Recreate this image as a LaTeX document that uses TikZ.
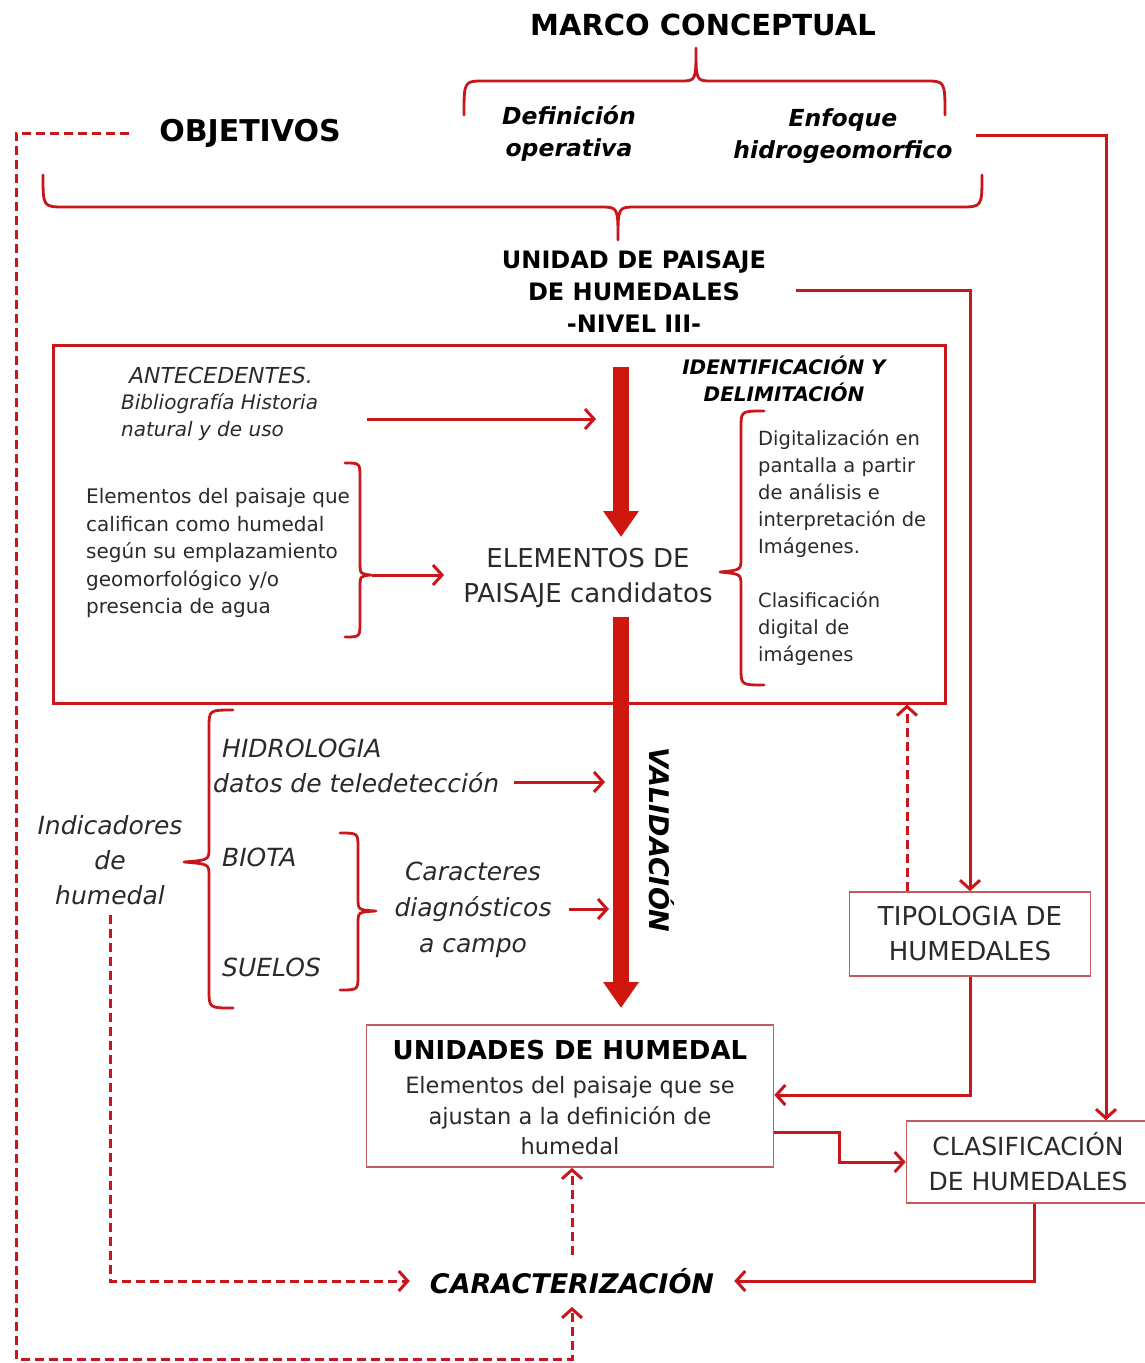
\documentclass[tikz,border=0pt]{standalone}
\usepackage{fontspec}
\setmainfont{DejaVu Sans}
\usetikzlibrary{arrows.meta}
\definecolor{rd}{HTML}{C8161B}
\definecolor{rdb}{HTML}{D0170F}
\definecolor{bxc}{HTML}{C45A5A}
\definecolor{tx}{HTML}{2A2A2A}
\newcommand{\fs}[2]{\fontsize{#1}{#2}\selectfont}
\begin{document}
\begin{tikzpicture}[x=1pt,y=-1pt,
 txt/.style={text=tx, inner sep=0pt, align=center},
 btxt/.style={text=black, inner sep=0pt, align=center},
 ln/.style={draw=rd, line width=3pt},
 arr/.style={ln, -{Straight Barb[length=9pt,width=20pt]}},
 darr/.style={arr, dash pattern=on 9pt off 5pt},
 brc/.style={draw=rd, line width=2.8pt, line cap=round, line join=round},
 fat/.style={draw=rdb, line width=16pt, -{Triangle[length=26pt,width=34pt]}},
 box/.style={draw=bxc, line width=1.6pt, fill=white, inner sep=0pt, align=center, text=tx},
]
\useasboundingbox (0,0) rectangle (1145,1363);

% ---- top part
\node[btxt, font=\bfseries\fs{29}{32}] (title) at (703,25) {MARCO CONCEPTUAL};
\draw[brc] (464,115) .. controls (464,81) .. (484,81) -- (680,81) .. controls (696,81) .. (696,48)
           .. controls (696,81) .. (712,81) -- (925,81) .. controls (945,81) .. (945,115);
\node[btxt, font=\bfseries\itshape\fs{23.5}{32}] (def) at (569,134) {Definición\\operativa};
\node[btxt, font=\bfseries\itshape\fs{23.5}{32}] (enf) at (843,136) {Enfoque\\hidrogeomorfico};
\node[btxt, font=\bfseries\fs{30}{32}] (obj) at (250,133) {OBJETIVOS};
\draw[brc] (43,175) .. controls (43,207) .. (65,207) -- (600,207) .. controls (618,207) .. (618,240)
           .. controls (618,207) .. (636,207) -- (960,207) .. controls (982,207) .. (982,175);
\node[btxt, font=\bfseries\fs{24}{32}] (upais) at (634,292) {UNIDAD DE PAISAJE\\DE HUMEDALES\\-NIVEL III-};

% ---- big box
\node[draw=rd, line width=3pt, minimum width=892pt, minimum height=358pt, inner sep=0pt] (bigbox) at (499,524) {};
\node[txt, anchor=west, font=\itshape\fs{22}{28}] (antecT) at (129,375) {ANTECEDENTES.};
\node[txt, align=left, anchor=west, font=\itshape\fs{20}{27}] (antec) at (121,417) {Bibliografía Historia\\natural y de uso};
\coordinate (a1s) at (367,419);
\coordinate (a1e) at (596,419);
\draw[arr] (a1s) -- (a1e);
\coordinate (f1s) at (621,367);
\coordinate (f1e) at (621,537);
\draw[fat] (f1s) -- (f1e);
\node[btxt, font=\bfseries\itshape\fs{20}{27}] (ident) at (784,379) {IDENTIFICACIÓN Y\\DELIMITACIÓN};
\node[txt, font=\fs{26}{35}] (elem) at (588,578) {ELEMENTOS DE\\PAISAJE candidatos};
\node[txt, align=left, anchor=west, font=\fs{20}{27.5}] (lefttxt) at (86,553)
  {Elementos del paisaje que\\califican como humedal\\según su emplazamiento\\geomorfológico y/o\\presencia de agua};
\draw[brc] (345,463) .. controls (360,463) .. (360,478) -- (360,562) .. controls (360,574) .. (371,575)
           .. controls (360,576) .. (360,588) -- (360,622) .. controls (360,637) .. (345,637);
\coordinate (b1s) at (372,575);
\coordinate (b1e) at (444,575);
\draw[arr] (b1s) -- (b1e);
\draw[brc] (764,411) .. controls (741,411) .. (741,428) -- (741,558) .. controls (741,570) .. (720,572)
           .. controls (741,574) .. (741,586) -- (741,668) .. controls (741,685) .. (764,685);
\node[txt, align=left, anchor=west, font=\fs{19.5}{27}] (digi) at (758,548)
  {Digitalización en\\pantalla a partir\\de análisis e\\interpretación de\\Imágenes.\\[27pt]Clasificación\\digital de\\imágenes};

% ---- validation
\coordinate (f2s) at (621,617);
\coordinate (f2e) at (621,1008);
\draw[fat] (f2s) -- (f2e);
\node[btxt, rotate=-90, font=\bfseries\itshape\fs{27}{30}] (valid) at (662,840) {VALIDACIÓN};

\draw[brc] (233,710) .. controls (209,710) .. (209,728) -- (209,848) .. controls (209,860) .. (184,862)
           .. controls (209,864) .. (209,876) -- (209,990) .. controls (209,1008) .. (233,1008);
\node[txt, font=\itshape\fs{25}{35}] (indic) at (110,860) {Indicadores\\de\\humedal};
\node[txt, align=left, anchor=west, font=\itshape\fs{25}{35}] (hidro) at (213,766) {\hspace*{9pt}HIDROLOGIA\\datos de teledetección};
\coordinate (h1s) at (514,782);
\coordinate (h1e) at (605,782);
\draw[arr] (h1s) -- (h1e);
\node[txt, anchor=west, font=\itshape\fs{25}{30}] (biota) at (222,857) {BIOTA};
\node[txt, anchor=west, font=\itshape\fs{25}{30}] (suelos) at (222,967) {SUELOS};
\draw[brc] (340,833) .. controls (358,833) .. (358,848) -- (358,898) .. controls (358,910) .. (376,911)
           .. controls (358,912) .. (358,924) -- (358,975) .. controls (358,990) .. (340,990);
\node[txt, font=\itshape\fs{25}{36}] (carac) at (473,910) {Caracteres\\diagnósticos\\a campo};
\coordinate (c1s) at (569,909);
\coordinate (c1e) at (609,909);
\draw[arr] (c1s) -- (c1e);

% ---- right boxes
\node[box, minimum width=241pt, minimum height=84pt, font=\fs{26}{35}] (tipo) at (970,934) {TIPOLOGIA DE\\HUMEDALES};
\draw[darr] ([xshift=-63pt]tipo.north) -- ([xshift=-63pt]tipo.north |- bigbox.south);
\coordinate (u1) at (796,290);
\draw[arr] (u1) -| (tipo.north);

\node[box, minimum width=407pt, minimum height=142pt] (unid) at (570,1096) {};
\node[btxt, font=\bfseries\fs{26}{30}] (unidT) at (570,1050) {UNIDADES DE HUMEDAL};
\node[txt, font=\fs{22.5}{30.5}] (unidS) at (570,1116) {Elementos del paisaje que se\\ajustan a la definición de\\humedal};

\node[box, minimum width=243pt, minimum height=82pt, font=\fs{25}{35}] (clas) at (1028,1162) {CLASIFICACIÓN\\DE HUMEDALES};
\coordinate (e1) at (976,135);
\draw[arr] (e1) -| ([xshift=78pt]clas.north);
\draw[arr] (tipo.south) |- ([yshift=1pt]unid.east);
\coordinate (k1) at (839,1132);
\draw[arr] ([yshift=-36pt]unid.east) -- (k1) |- (clas.west);

\node[btxt, inner xsep=20pt, inner ysep=13pt, font=\bfseries\itshape\fs{27}{30}] (caract) at (572,1281) {CARACTERIZACIÓN};
\draw[arr] ([xshift=6pt]clas.south) |- (caract.east);
\draw[darr] (caract.north) -- (caract.north |- unid.south);
\draw[darr] ([yshift=-10pt]indic.south) |- (caract.west);
\coordinate (o1) at (16,133);
\coordinate (o2) at (16,1359);
\draw[darr] ([xshift=-30pt]obj.west) -- (o1) -- (o2) -| (caract.south);
\end{tikzpicture}
\end{document}
